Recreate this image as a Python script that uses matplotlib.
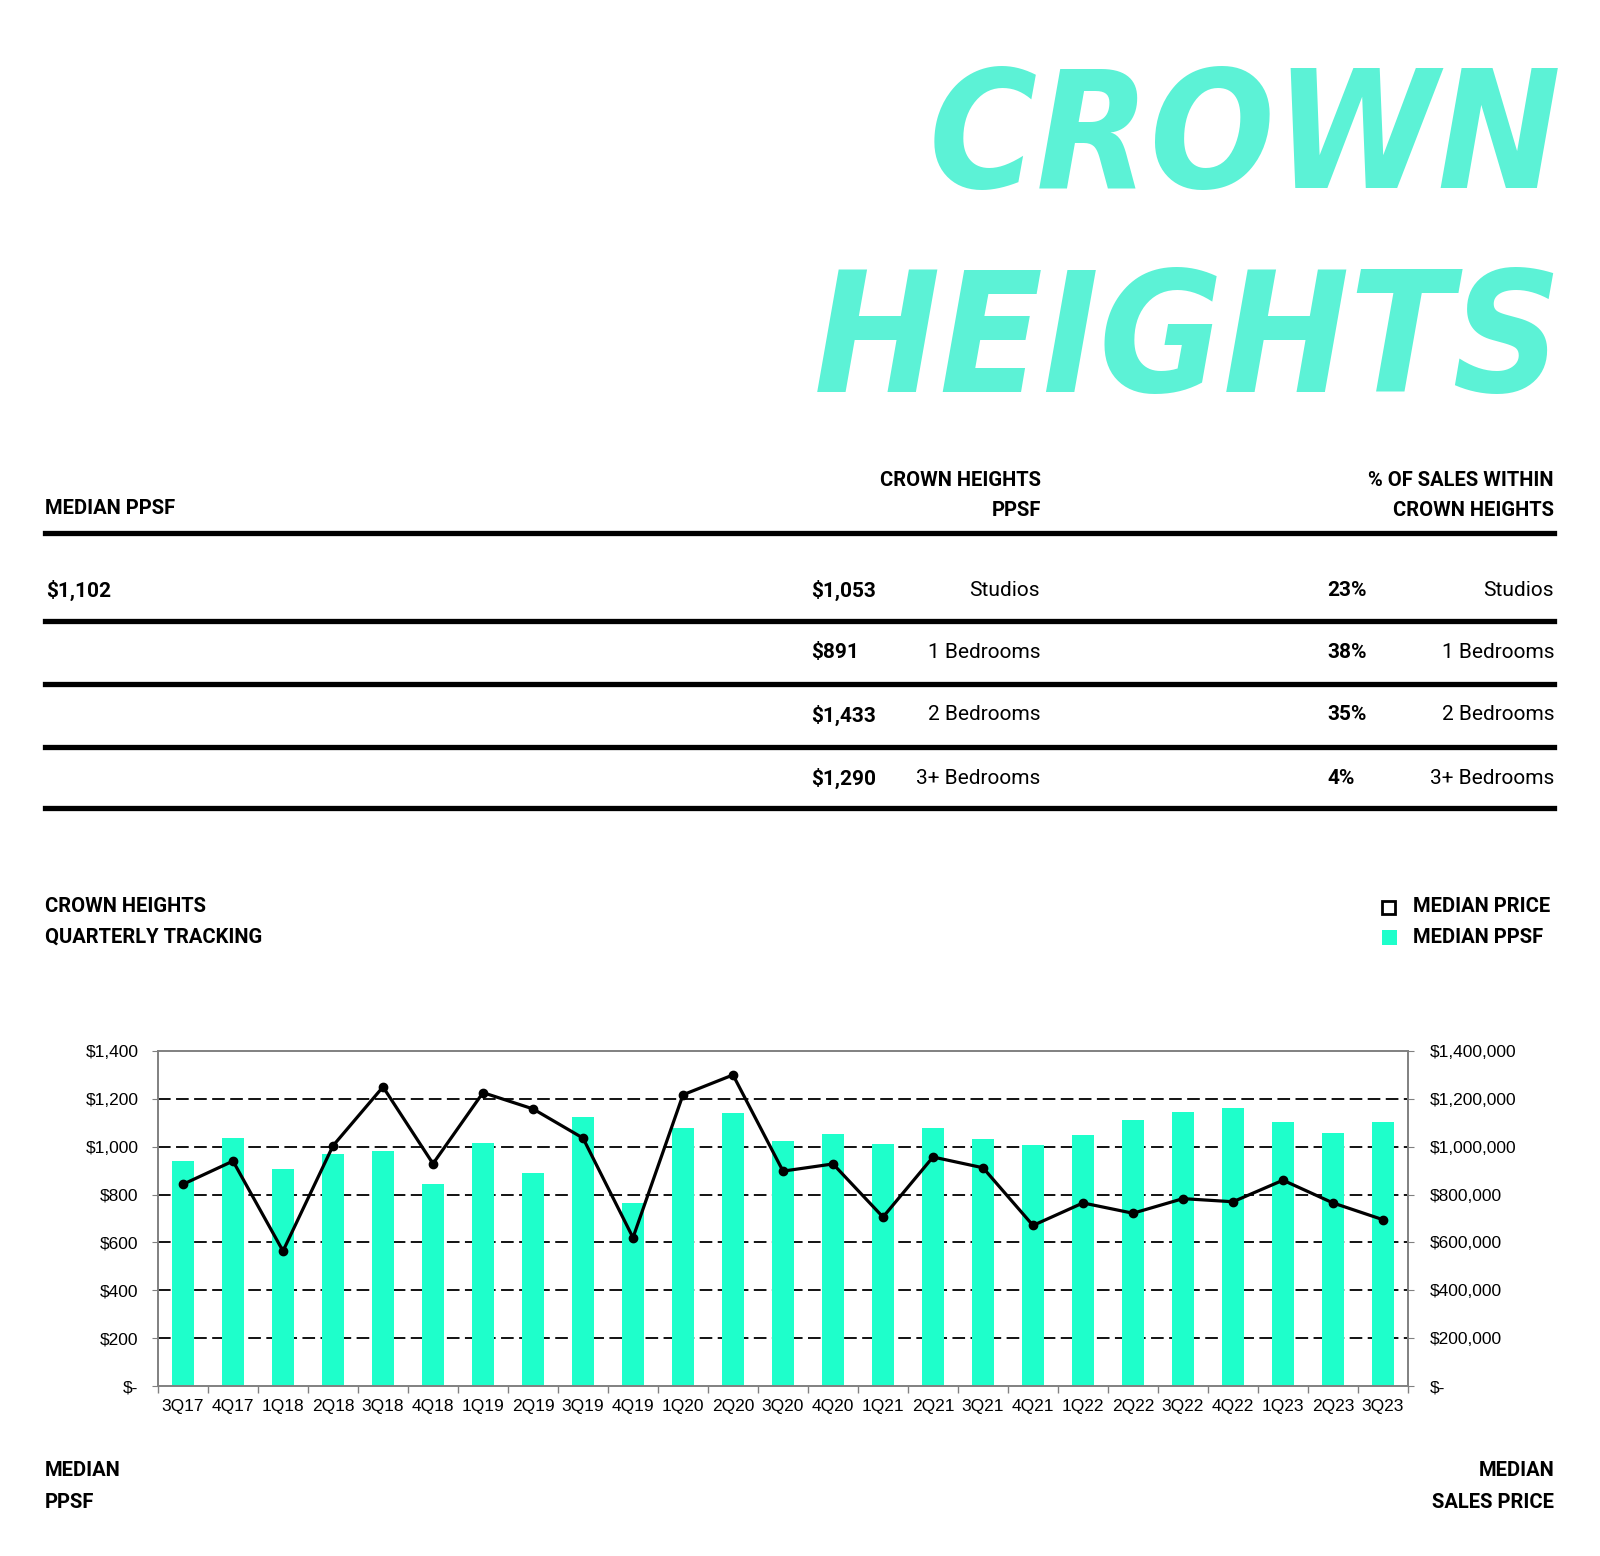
import matplotlib
matplotlib.use('Agg')
import matplotlib.pyplot as plt
import matplotlib.lines as mlines
import matplotlib.patches as mpatches
from matplotlib.ticker import FuncFormatter, FixedLocator
import numpy as np

# ---------------------------------------------------------------------------
# data
# ---------------------------------------------------------------------------
quarters = ['3Q17', '4Q17', '1Q18', '2Q18', '3Q18', '4Q18', '1Q19', '2Q19', '3Q19',
            '4Q19', '1Q20', '2Q20', '3Q20', '4Q20', '1Q21', '2Q21', '3Q21', '4Q21',
            '1Q22', '2Q22', '3Q22', '4Q22', '1Q23', '2Q23', '3Q23']
median_ppsf = [940, 1036, 905, 971, 981, 846, 1017, 892, 1124, 766, 1078, 1139, 1022,
               1054, 1010, 1077, 1032, 1006, 1048, 1112, 1144, 1160, 1105, 1059, 1102]
median_price = [843000, 940000, 564000, 1004000, 1250000, 929000, 1226000, 1158000,
                1036000, 620000, 1217000, 1300000, 898000, 928000, 706000, 957000,
                912000, 671000, 765000, 722000, 783000, 770000, 860000, 765000, 695000]

overall_ppsf = '$1,102'
unit_types = ['Studios', '1 Bedrooms', '2 Bedrooms', '3+ Bedrooms']
unit_ppsf = ['$1,053', '$891', '$1,433', '$1,290']
unit_share = ['23%', '38%', '35%', '4%']

MINT = '#1EFFCB'
TITLE_MINT = '#5CF2D6'
W, H = 1600, 1556

plt.rcParams['font.family'] = ['Roboto', 'DejaVu Sans']


# helpers to place things in page pixels (top-left origin)
def fx(px):
    return px / W


def fy(py):
    return 1 - py / H


fig = plt.figure(figsize=(W / 100, H / 100), dpi=100)

# ---------------------------------------------------------------------------
# brush style title (no brush font available, condensed heavy italic instead)
# ---------------------------------------------------------------------------
title_font = ['DejaVu Sans']
fig.text(fx(1562), fy(143), 'CROWN', ha='right', va='center', fontsize=118,
         fontweight='bold', style='italic', stretch='condensed', color=TITLE_MINT,
         family=title_font)
fig.text(fx(1562), fy(345), 'HEIGHTS', ha='right', va='center', fontsize=121,
         fontweight='bold', style='italic', stretch='condensed', color=TITLE_MINT,
         family=title_font)

# ---------------------------------------------------------------------------
# summary table
# ---------------------------------------------------------------------------
hdr = dict(fontsize=14.5, fontweight='bold', va='center', color='black')
fig.text(fx(45), fy(509), 'MEDIAN PPSF', ha='left', **hdr)
fig.text(fx(1041), fy(481), 'CROWN HEIGHTS', ha='right', **hdr)
fig.text(fx(1041), fy(511), 'PPSF', ha='right', **hdr)
fig.text(fx(1554), fy(481), '% OF SALES WITHIN', ha='right', **hdr)
fig.text(fx(1554), fy(511), 'CROWN HEIGHTS', ha='right', **hdr)

rule_y = [533, 621, 684, 747, 808]
for ry in rule_y:
    fig.add_artist(mlines.Line2D([fx(45), fx(1554)], [fy(ry), fy(ry)], color='black',
                                 linewidth=3.8, transform=fig.transFigure))

row_y = [590, 653, 715, 778]
fig.text(fx(46), fy(row_y[0]), overall_ppsf, ha='left', va='center', fontsize=15,
         fontweight='bold')
for i, y in enumerate(row_y):
    fig.text(fx(811), fy(y), unit_ppsf[i], ha='left', va='center', fontsize=15,
             fontweight='bold')
    fig.text(fx(1040), fy(y), unit_types[i], ha='right', va='center', fontsize=15)
    fig.text(fx(1327), fy(y), unit_share[i], ha='left', va='center', fontsize=15,
             fontweight='bold')
    fig.text(fx(1554), fy(y), unit_types[i], ha='right', va='center', fontsize=15)

# ---------------------------------------------------------------------------
# quarterly tracking chart
# ---------------------------------------------------------------------------
sub = dict(fontsize=14.5, fontweight='bold', va='center')
fig.text(fx(45), fy(906), 'CROWN HEIGHTS', ha='left', **sub)
fig.text(fx(45), fy(937), 'QUARTERLY TRACKING', ha='left', **sub)

# legend squares
fig.add_artist(mpatches.Rectangle((fx(1382), fy(914)), 13 / W, 13 / H, facecolor='white',
                                  edgecolor='black', linewidth=2, transform=fig.transFigure))
fig.add_artist(mpatches.Rectangle((fx(1382), fy(945)), 15 / W, 15 / H, facecolor=MINT,
                                  edgecolor='none', transform=fig.transFigure))
fig.text(fx(1413), fy(906), 'MEDIAN PRICE', ha='left', **sub)
fig.text(fx(1413), fy(937), 'MEDIAN PPSF', ha='left', **sub)

tick_font = ['Liberation Sans', 'DejaVu Sans']
ax = fig.add_axes([fx(158), fy(1386), (1408 - 158) / W, (1386 - 1051) / H])
x = np.arange(len(quarters))
ax.bar(x, median_ppsf, width=0.45, color=MINT, zorder=2)
ax.set_xlim(-0.5, len(quarters) - 0.5)
ax.set_ylim(0, 1400)
ax.set_yticks(np.arange(0, 1401, 200))
ax.yaxis.set_major_formatter(FuncFormatter(lambda v, p: '$-' if v == 0 else f'${v:,.0f}'))
ax.set_xticks(x)
ax.set_xticklabels(quarters)
ax.xaxis.set_minor_locator(FixedLocator(np.arange(-0.5, len(quarters), 1.0)))
ax.tick_params(axis='x', which='major', length=0, pad=9, labelsize=12.5)
ax.tick_params(axis='x', which='minor', length=5, color='#808080', width=1)
ax.tick_params(axis='y', length=4, color='#808080', pad=10, labelsize=12.5)
for lab in ax.get_xticklabels() + ax.get_yticklabels():
    lab.set_family(tick_font)

for gy in range(200, 1400, 200):
    ax.axhline(gy, color='black', linewidth=1.3, linestyle=(0, (7, 3)), zorder=1)
for s in ax.spines.values():
    s.set_color('#808080')
    s.set_linewidth(1.2)

ax2 = ax.twinx()
ax2.plot(x, median_price, color='black', linewidth=2.3, marker='o', markersize=6,
         zorder=3)
ax2.set_ylim(0, 1400000)
ax2.set_yticks(np.arange(0, 1400001, 200000))
ax2.yaxis.set_major_formatter(FuncFormatter(lambda v, p: '$-' if v == 0 else f'${v:,.0f}'))
ax2.tick_params(axis='y', length=4, color='#808080', pad=12, labelsize=12.5)
for lab in ax2.get_yticklabels():
    lab.set_family(tick_font)
for s in ax2.spines.values():
    s.set_color('#808080')
    s.set_linewidth(1.2)

# axis captions under the chart
fig.text(fx(45), fy(1470), 'MEDIAN', ha='left', **sub)
fig.text(fx(45), fy(1502), 'PPSF', ha='left', **sub)
fig.text(fx(1554), fy(1470), 'MEDIAN', ha='right', **sub)
fig.text(fx(1554), fy(1502), 'SALES PRICE', ha='right', **sub)

fig.savefig('out.png', dpi=100, facecolor='white')
